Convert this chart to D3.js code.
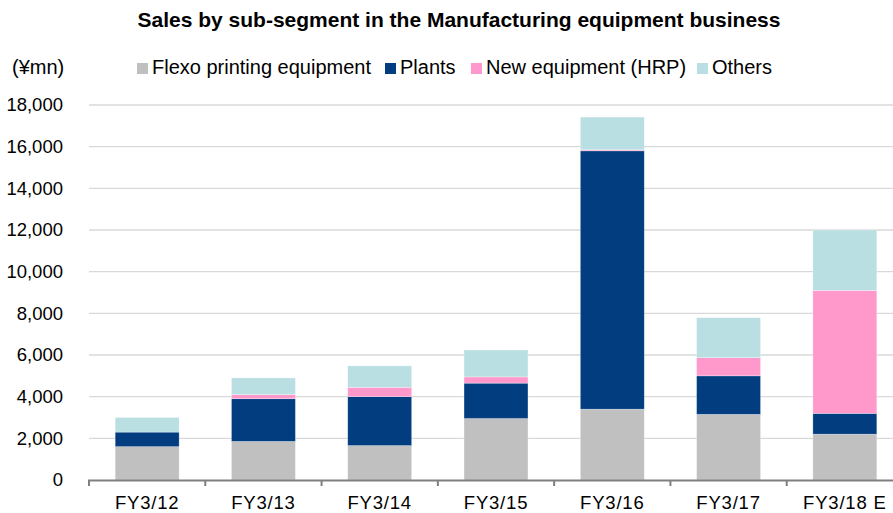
<!DOCTYPE html>
<html><head><meta charset="utf-8">
<script src="https://cdn.jsdelivr.net/npm/d3@7/dist/d3.min.js"></script>
<style>body{margin:0;background:#fff;}svg{display:block;font-family:"Liberation Sans",Arial,sans-serif;}</style>
</head><body>
<svg id="chart" width="893" height="513"></svg>
<script>
const categories = ["FY3/12","FY3/13","FY3/14","FY3/15","FY3/16","FY3/17","FY3/18 E"];
const flexo  = [1600, 1850, 1650, 2950, 3400, 3150, 2200];
const plants = [700, 2050, 2350, 1700, 12400, 1850, 1000];
const newEq  = [0, 200, 450, 300, 50, 870, 5900];
const others = [700, 800, 1030, 1290, 1570, 1920, 2900];
const seriesNames = ["Flexo printing equipment","Plants","New equipment (HRP)","Others"];
const colors = ["#c0c0c0","#023e7f","#ff99cc","#b9dfe3"];
const yTicks = [0,2000,4000,6000,8000,10000,12000,14000,16000,18000];

const svg = d3.select("#chart");
const x = d3.scaleBand().domain(categories).range([89, 903]).paddingInner(0.45).paddingOuter(0.225);
const y = d3.scaleLinear().domain([0,18000]).range([480,105]);

const rows = categories.map((c,i)=>({cat:c, s0:flexo[i], s1:plants[i], s2:newEq[i], s3:others[i]}));
const stack = d3.stack().keys(["s0","s1","s2","s3"])(rows);

// gridlines
svg.append("g").selectAll("line").data(yTicks.filter(d=>d>0)).join("line")
  .attr("x1",89).attr("x2",893).attr("y1",d=>y(d)).attr("y2",d=>y(d))
  .attr("stroke","#d9d9d9").attr("stroke-width",1.3);

// bars
svg.append("g").selectAll("g").data(stack).join("g").attr("fill",(d,i)=>colors[i])
  .selectAll("rect").data(d=>d).join("rect")
  .attr("x",d=>x(d.data.cat)).attr("width",x.bandwidth())
  .attr("y",d=>y(d[1])).attr("height",d=>Math.max(0,y(d[0])-y(d[1])))
  .attr("stroke","#ffffff").attr("stroke-width",0.6).attr("stroke-opacity",0.5);

// y axis labels
const yAxis = d3.axisLeft(y).tickValues(yTicks).tickSize(0).tickPadding(0).tickFormat(d3.format(","));
const ya = svg.append("g").attr("transform","translate(63,0)").call(yAxis);
ya.select(".domain").remove();
ya.selectAll("text").attr("font-size",18.5).attr("fill","#000").attr("font-family","'Liberation Sans',Arial,sans-serif");

// x axis
const xAxis = d3.axisBottom(x).tickSize(0).tickPadding(16);
const xa = svg.append("g").attr("transform","translate(0,480)").call(xAxis);
xa.select(".domain").remove();
xa.selectAll("text").attr("font-size",18.5).attr("letter-spacing","0.8px").attr("fill","#000").attr("font-family","'Liberation Sans',Arial,sans-serif");
svg.append("line").attr("x1",88).attr("x2",893).attr("y1",480.5).attr("y2",480.5).attr("stroke","#7f7f7f").attr("stroke-width",2);
const bounds = categories.map(c=>x(c)-x.step()*x.paddingInner()/2);
svg.append("g").selectAll("line").data(bounds).join("line")
  .attr("x1",d=>d).attr("x2",d=>d).attr("y1",480).attr("y2",486)
  .attr("stroke","#7f7f7f").attr("stroke-width",2);

// title
svg.append("text").attr("x",459).attr("y",27).attr("text-anchor","middle")
  .attr("font-size",21).attr("font-weight","bold").attr("fill","#000")
  .text("Sales by sub-segment in the Manufacturing equipment business");

// unit
svg.append("text").attr("x",12).attr("y",74).attr("font-size",20).attr("fill","#000").text("(¥mn)");

// legend
const legendX = [137, 385, 471, 697];
const lg = svg.append("g").selectAll("g").data(seriesNames).join("g")
  .attr("transform",(d,i)=>`translate(${legendX[i]},63)`);
lg.append("rect").attr("width",11).attr("height",11).attr("fill",(d,i)=>colors[i]);
lg.append("text").attr("x",15).attr("y",11).attr("font-size",20).attr("fill","#000").text(d=>d);
</script>
</body></html>
